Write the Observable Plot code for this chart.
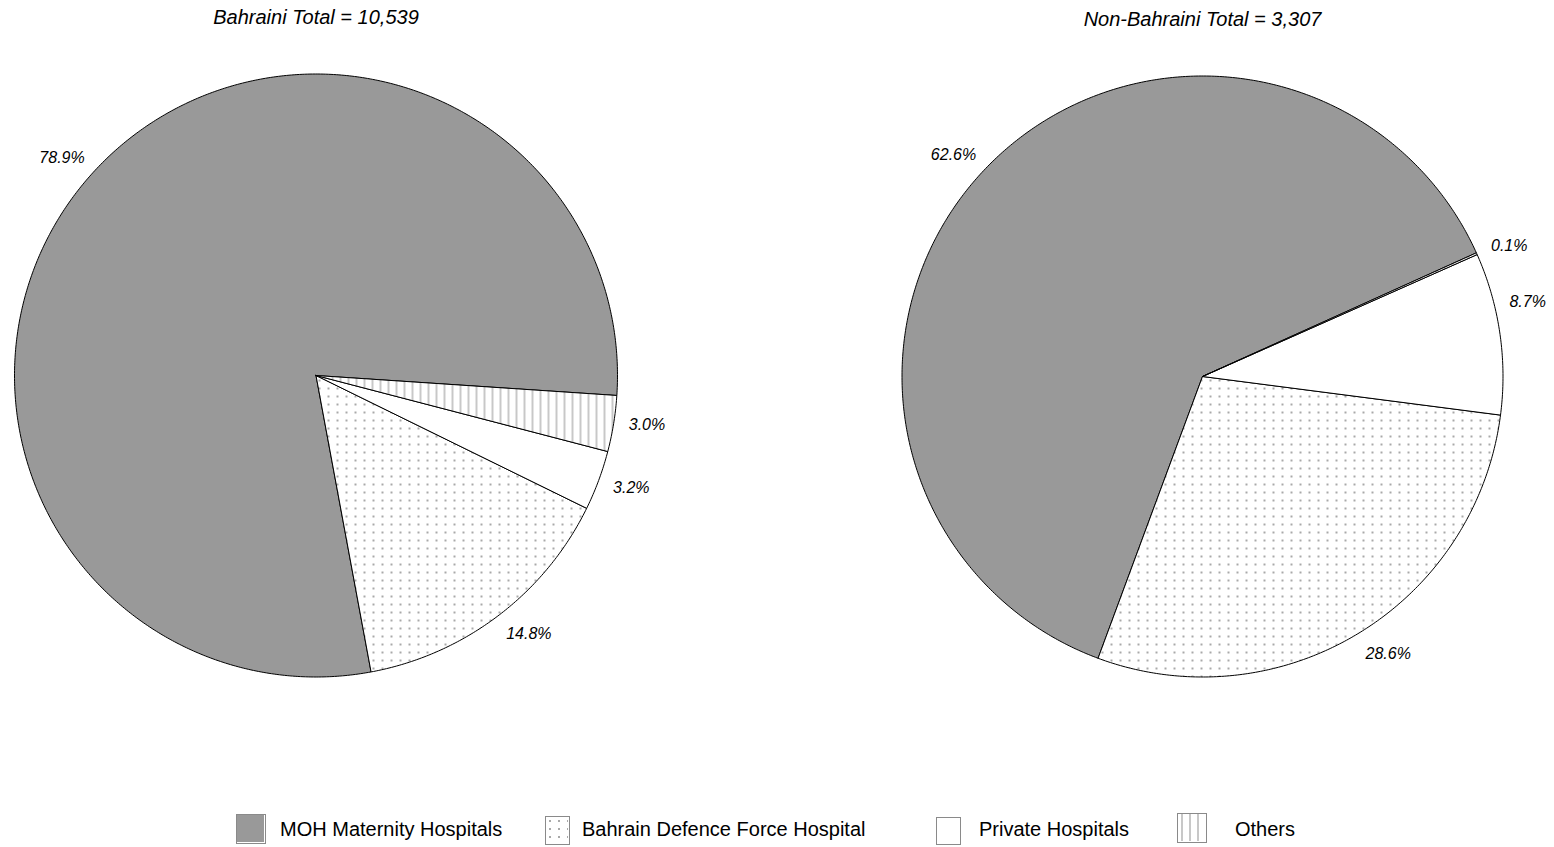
<!DOCTYPE html>
<html>
<head>
<meta charset="utf-8">
<script src="https://cdn.jsdelivr.net/npm/d3@7"></script>
<script src="https://cdn.jsdelivr.net/npm/@observablehq/plot@0.6"></script>
<style>
  html, body { margin: 0; padding: 0; background: #fff; }
  #wrap { width: 1554px; position: relative; font-family: "Liberation Sans", Arial, sans-serif; }
  #legend { position: relative; width: 1554px; height: 57px; }
  .sw { position: absolute; box-sizing: border-box; border: 1.5px solid #8a8a8a; }
  .lab { position: absolute; font-size: 20px; color: #000; white-space: nowrap; line-height: 1; }
</style>
</head>
<body>
<svg width="0" height="0" style="position:absolute">
  <defs>
    <pattern id="dots" patternUnits="userSpaceOnUse" width="9" height="8">
      <rect width="9" height="8" fill="#fff"/>
      <rect x="3" y="3" width="2" height="2" fill="#a9a9a9"/>
    </pattern>
    <pattern id="stripes" patternUnits="userSpaceOnUse" width="8" height="8">
      <rect width="8" height="8" fill="#fff"/>
      <rect x="3" y="0" width="2" height="8" fill="#c8c8c8"/>
    </pattern>
  </defs>
</svg>
<div id="wrap">
  <div id="chart"></div>
  <div id="legend"></div>
</div>
<script>
// ---- data ----
const categories = ["MOH Maternity Hospitals", "Bahrain Defence Force Hospital", "Private Hospitals", "Others"];
const groups = ["Bahraini", "Non-Bahraini"];
const totals = [10539, 3307];
const bahrainiShares = [78.9, 14.8, 3.2, 3.0];
const nonBahrainiShares = [62.6, 28.6, 8.7, 0.1];

// ---- layout ----
const W = 1554, H = 790;
const startAngles = [-3.8, 24.3]; // degrees, counterclockwise from 3 o'clock
const pies = [{cx: 315.5, cy: 375, r: 301.5}, {cx: 1202, cy: 376, r: 300.5}];
const labelRadius = 1.11;
const labelNudge = [[1.0, 2.3, 0.8, 0.7], [1.3, 2.7, 4.6, -1.0]]; // degrees
const fills = ["#999999", "url(#dots)", "#ffffff", "url(#stripes)"];

const polys = [], labels = [], titles = [];
groups.forEach((g, gi) => {
  const shares = gi ? nonBahrainiShares : bahrainiShares;
  const sum = d3.sum(shares);
  const {cx, cy, r} = pies[gi];
  let a = startAngles[gi];
  shares.forEach((s, i) => {
    const cat = categories[i];
    const span = s / sum * 360;
    const a0 = a, a1 = a + span;
    const n = Math.max(2, Math.ceil(span / 0.5));
    const key = g + "|" + cat;
    polys.push({key, cat, x: cx, y: cy});
    for (let k = 0; k <= n; k++) {
      const t = (a0 + span * k / n) * Math.PI / 180;
      polys.push({key, cat, x: cx + r * Math.cos(t), y: cy - r * Math.sin(t)});
    }
    polys.push({key, cat, x: cx, y: cy});
    const m = ((a0 + a1) / 2 + labelNudge[gi][i]) * Math.PI / 180;
    labels.push({x: cx + labelRadius * r * Math.cos(m), y: cy - labelRadius * r * Math.sin(m), text: s.toFixed(1) + "%"});
    a = a1;
  });
  titles.push({x: cx, y: cy - 1.165 * r, text: `${g} Total = ${d3.format(",")(totals[gi])}`});
});

const chart = Plot.plot({
  width: W, height: H,
  margin: 0,
  x: {domain: [0, W], range: [0, W], axis: null},
  y: {domain: [0, H], range: [0, H], axis: null},
  color: {domain: categories, range: fills},
  style: {fontFamily: "'Liberation Sans', Arial, sans-serif", background: "#fff", color: "#000"},
  marks: [
    Plot.line(polys, {x: "x", y: "y", z: "key", fill: "cat", stroke: "#000", strokeWidth: 1, strokeLinejoin: "round", curve: "linear"}),
    Plot.text(labels, {x: "x", y: "y", text: "text", fontSize: 16, fontStyle: "italic", textAnchor: "middle", lineAnchor: "middle", fill: "#000"}),
    Plot.text(titles, {x: "x", y: "y", text: "text", fontSize: 20, fontStyle: "italic", textAnchor: "middle", lineAnchor: "bottom", fill: "#000"})
  ]
});
document.getElementById("chart").appendChild(chart);

// ---- legend ----
const legendLayout = [
  {sx: 236, sy: 24, sw: 30, sh: 30, tx: 280},
  {sx: 545, sy: 26, sw: 25, sh: 29, tx: 582},
  {sx: 936, sy: 27, sw: 25, sh: 28, tx: 979},
  {sx: 1177, sy: 23, sw: 30, sh: 30, tx: 1235}
];
const legend = document.getElementById("legend");
categories.forEach((c, i) => {
  const L = legendLayout[i];
  const sw = document.createElement("div");
  sw.className = "sw";
  sw.style.left = L.sx + "px"; sw.style.top = L.sy + "px";
  sw.style.width = L.sw + "px"; sw.style.height = L.sh + "px";
  const svg = d3.create("svg").attr("width", L.sw - 3).attr("height", L.sh - 3).style("display", "block");
  svg.append("rect").attr("width", L.sw).attr("height", L.sh).attr("fill", fills[i]);
  sw.appendChild(svg.node());
  legend.appendChild(sw);
  const t = document.createElement("div");
  t.className = "lab";
  t.textContent = c;
  t.style.left = L.tx + "px"; t.style.top = "29px";
  legend.appendChild(t);
});
</script>
</body>
</html>
